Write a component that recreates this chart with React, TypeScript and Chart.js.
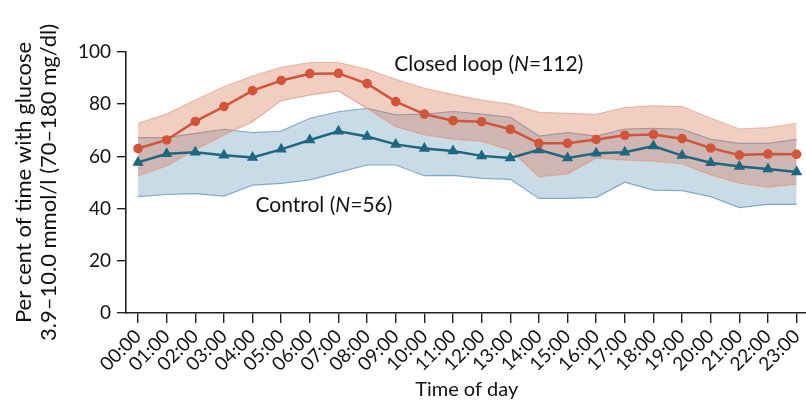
import React, { useEffect, useRef } from "react";
import { Chart, registerables } from "chart.js";

Chart.register(...registerables);

const hours = [0, 1, 2, 3, 4, 5, 6, 7, 8, 9, 10, 11, 12, 13, 14, 15, 16, 17, 18, 19, 20, 21, 22, 23];
const yTicks = [0, 20, 40, 60, 80, 100];

const closedLoop = [63, 66.3, 73.4, 79.1, 85.2, 89.1, 91.7, 91.8, 87.9, 81, 76.2, 73.7, 73.3, 70.4, 65, 65, 66.5, 68.1, 68.4, 66.8, 63.2, 60.5, 60.9, 60.8];
const closedLoopUpper = [72.7, 76.2, 81.6, 86.7, 90.8, 94.1, 95.9, 95.9, 93.4, 89.5, 86.1, 83.7, 81.6, 80, 76.9, 76.5, 76.1, 78.7, 79.4, 79.1, 74.6, 70.5, 71, 72.7];
const closedLoopLower = [52.5, 56.3, 62.5, 68.2, 73.3, 81.4, 83.5, 85.1, 78.4, 71.4, 68.2, 66.6, 65.7, 62.5, 52.2, 53.3, 59.3, 58.6, 58.2, 57.1, 52.9, 49.7, 48.2, 49.3];

const control = [57.7, 61, 61.6, 60.4, 59.6, 62.7, 66.3, 69.6, 67.6, 64.6, 63, 62.1, 60.2, 59.4, 62.5, 59.4, 61.2, 61.6, 64, 60.3, 57.6, 56.1, 55.2, 54];
const controlUpper = [67.2, 67.2, 68.8, 70.4, 69.1, 69.7, 74.6, 77.1, 78.4, 75.9, 76.2, 77.2, 76.2, 75, 67.8, 69.1, 67.8, 70.5, 70.7, 70.4, 66.5, 65, 65, 66.5];
const controlLower = [44.6, 45.4, 45.7, 44.8, 49, 49.7, 51, 53.9, 56.7, 56.7, 52.6, 52.7, 51.6, 51.2, 43.9, 43.9, 44.3, 50.1, 47.1, 46.9, 44.6, 40.4, 41.6, 41.6];

const closedLabel = ["Closed loop (", "N", "=112)"];
const controlLabel = ["Control (", "N", "=56)"];

const FONT = "Lato, 'Open Sans', sans-serif";

const fmtHour = (h: number) => String(h).padStart(2, "0") + ":00";

const labelPlugin = {
  id: "seriesLabels",
  afterDatasetsDraw(chart: any) {
    const { ctx, scales } = chart;
    const draw = (parts: string[], xv: number, yv: number) => {
      let x = scales.x.getPixelForValue(xv);
      const y = scales.y.getPixelForValue(yv);
      ctx.save();
      ctx.fillStyle = "#111";
      ctx.textBaseline = "middle";
      ctx.textAlign = "left";
      parts.forEach((p, i) => {
        ctx.font = (i === 1 ? "italic " : "") + "21px " + FONT;
        ctx.fillText(p, x, y);
        x += ctx.measureText(p).width;
      });
      ctx.restore();
    };
    draw(closedLabel, 8.95, 95.3);
    draw(controlLabel, 4.1, 41.3);
  },
};

export default function App() {
  const ref = useRef<HTMLCanvasElement | null>(null);
  useEffect(() => {
    if (!ref.current) return;
    const bandRed = "rgba(218,110,75,0.34)";
    const bandBlue = "rgba(105,155,185,0.36)";
    const chart = new Chart(ref.current, {
      type: "line",
      data: {
        labels: hours,
        datasets: [
          {
            data: closedLoopUpper,
            borderColor: "rgba(228,170,150,0.8)",
            borderWidth: 1.2,
            pointRadius: 0,
            backgroundColor: bandRed,
            fill: "+1",
            order: 3,
          },
          {
            data: closedLoopLower,
            borderColor: "rgba(228,170,150,0.8)",
            borderWidth: 1.2,
            pointRadius: 0,
            fill: false,
            order: 4,
          },
          {
            data: controlUpper,
            borderColor: "#86aec6",
            borderWidth: 1.2,
            pointRadius: 0,
            backgroundColor: bandBlue,
            fill: "+1",
            order: 5,
          },
          {
            data: controlLower,
            borderColor: "#86aec6",
            borderWidth: 1.2,
            pointRadius: 0,
            fill: false,
            order: 6,
          },
          {
            data: closedLoop,
            borderColor: "#d2553a",
            backgroundColor: "#d2553a",
            borderWidth: 2.5,
            pointRadius: 4.8,
            pointStyle: "circle",
            pointBorderWidth: 0,
            fill: false,
            order: 1,
          },
          {
            data: control,
            borderColor: "#1d6780",
            backgroundColor: "#1d6780",
            borderWidth: 2.5,
            pointRadius: 6.5,
            pointStyle: "triangle",
            pointBorderWidth: 0,
            fill: false,
            order: 2,
          },
        ],
      },
      options: {
        responsive: false,
        animation: false,
        layout: { padding: { top: 52, left: 0, right: 0, bottom: 0 } },
        plugins: { legend: { display: false }, tooltip: { enabled: false } },
        elements: { line: { tension: 0 } },
        scales: {
          x: {
            type: "linear",
            min: -0.42,
            max: 23.38,
            afterBuildTicks: (scale: any) => {
              scale.ticks = hours.map((h) => ({ value: h }));
            },
            afterFit: (scale: any) => {
              scale.height = 91;
              scale.paddingLeft = 0;
              scale.paddingRight = 0;
            },
            border: { display: true, color: "#222", width: 1.6 },
            grid: { display: true, drawOnChartArea: false, drawTicks: true, tickLength: 10, color: "#222", lineWidth: 1.4 },
            ticks: {
              autoSkip: false,
              minRotation: 45,
              maxRotation: 45,
              padding: 2,
              color: "#111",
              font: { family: FONT, size: 19 },
              callback: (v: any) => fmtHour(Number(v)),
            },
            title: {
              display: true,
              text: "Time of day",
              color: "#111",
              font: { family: FONT, size: 20 },
              padding: { top: 0, bottom: 2 },
            },
          },
          y: {
            min: 0,
            max: 100,
            afterBuildTicks: (scale: any) => {
              scale.ticks = yTicks.map((v) => ({ value: v }));
            },
            afterFit: (scale: any) => {
              scale.width = 126;
              scale.paddingTop = 0;
              scale.paddingBottom = 0;
            },
            border: { display: true, color: "#222", width: 1.6 },
            grid: { display: true, drawOnChartArea: false, drawTicks: true, tickLength: 9, color: "#222", lineWidth: 1.4 },
            ticks: {
              padding: 6,
              color: "#111",
              font: { family: FONT, size: 19 },
            },
            title: {
              display: true,
              text: ["Per cent of time with glucose", "3.9–10.0 mmol/l (70–180 mg/dl)"],
              color: "#111",
              font: { family: FONT, size: 22, lineHeight: 1.15 },
              padding: { top: 11, bottom: 0 },
            },
          },
        },
      },
      plugins: [labelPlugin],
    });
    return () => chart.destroy();
  }, []);
  return (
    <div style={{ position: "absolute", left: 0, top: 0, width: 806, height: 404, overflow: "hidden", background: "#fff" }}>
      <canvas ref={ref} width={814} height={404} style={{ display: "block" }} />
    </div>
  );
}
